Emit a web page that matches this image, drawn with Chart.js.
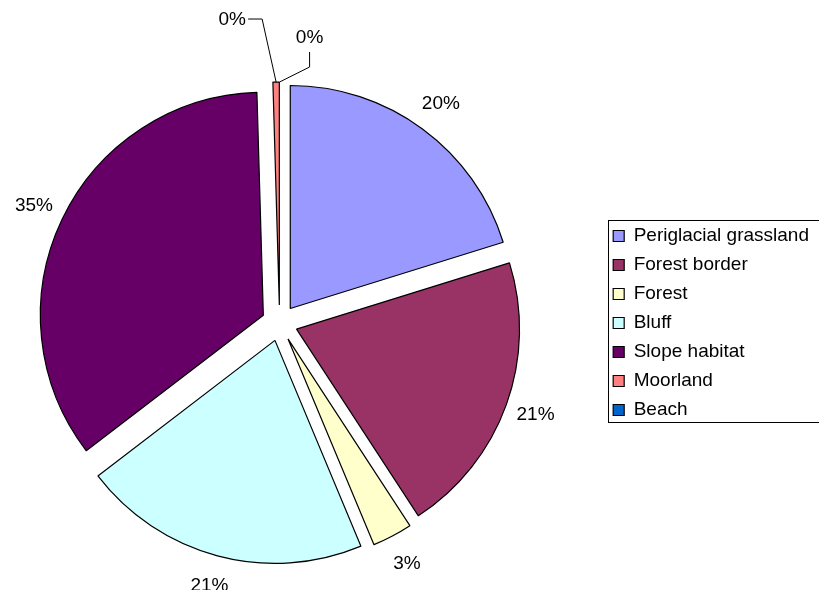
<!DOCTYPE html>
<html>
<head>
<meta charset="utf-8">
<script src="https://cdn.jsdelivr.net/npm/chart.js@4.4.0/dist/chart.umd.min.js"></script>
<style>
  html, body { margin: 0; padding: 0; background: #fff; overflow: hidden; }
  /* canvas starts a bit left of the window so the pie sits where it should */
  #wrap { width: 819px; height: 590px; overflow: hidden; position: relative; }
  canvas { display: block; position: absolute; left: -44px; top: 0; }
</style>
</head>
<body>
<div id="wrap"><canvas id="pie" width="863" height="590"></canvas></div>
<script>
// habitat types, clockwise from 12 o'clock
const habitats = ["Periglacial grassland", "Forest border", "Forest", "Bluff", "Slope habitat", "Moorland", "Beach"];
const shares = [20.2, 20.6, 2.9, 20.9, 34.94, 0.46, 0];
const colours = ["#9999FF", "#993366", "#FFFFCC", "#CCFFFF", "#660066", "#FF8080", "#0066CC"];

const EXPLODE = 18;
const FONT = '"Liberation Sans", Arial, sans-serif';

// the tiny slices get their label pushed out with a leader line (offsets from slice tip)
const leaders = {
  5: { text: [-44, -62], line: [[-28, -63], [-14, -63], [0, 0]] },
  6: { text: [30, -44], line: [[30, -30], [30, -15], [0, 0]] }
};

function midDir(arc) {
  const a = (arc.startAngle + arc.endAngle) / 2;
  return [Math.cos(a), Math.sin(a)];
}

// draw every slice pulled out along its bisector
const explodePlugin = {
  id: 'explode',
  beforeDatasetDraw(chart, args) {
    const ctx = chart.ctx;
    args.meta.data.forEach(arc => {
      const [dx, dy] = midDir(arc);
      ctx.save();
      ctx.translate(dx * EXPLODE, dy * EXPLODE);
      arc.draw(ctx);
      ctx.restore();
    });
    return false;
  }
};

// percent labels + box round the legend
const labelPlugin = {
  id: 'pctLabels',
  afterDraw(chart) {
    const ctx = chart.ctx;
    const meta = chart.getDatasetMeta(0);
    const total = shares.reduce((s, v) => s + v, 0);
    ctx.save();
    ctx.font = '19px ' + FONT;
    ctx.fillStyle = '#000';
    ctx.strokeStyle = '#000';
    ctx.lineWidth = 1;
    ctx.textAlign = 'center';
    ctx.textBaseline = 'middle';
    meta.data.forEach((arc, i) => {
      const [dx, dy] = midDir(arc);
      const txt = Math.round(shares[i] / total * 100) + '%';
      const r = arc.outerRadius + EXPLODE;
      const tipX = arc.x + dx * r, tipY = arc.y + dy * r;
      const ld = leaders[i];
      if (ld) {
        ctx.beginPath();
        ld.line.forEach(([px, py], k) => {
          if (k) ctx.lineTo(tipX + px, tipY + py);
          else ctx.moveTo(tipX + px, tipY + py);
        });
        ctx.stroke();
        ctx.fillText(txt, tipX + ld.text[0], tipY + ld.text[1]);
      } else {
        ctx.fillText(txt, arc.x + dx * (r + 31), arc.y + dy * (r + 31));
      }
    });

    const hb = chart.legend.legendHitBoxes;
    if (hb && hb.length) {
      const first = hb[0], last = hb[hb.length - 1];
      ctx.strokeRect(Math.round(first.left) - 4.5, Math.round(first.top) - 6.5,
        chart.width, Math.round(last.top + last.height - first.top) + 9);
    }
    ctx.restore();
  }
};

new Chart(document.getElementById('pie'), {
  type: 'pie',
  data: {
    labels: habitats,
    datasets: [{
      data: shares,
      backgroundColor: colours,
      borderColor: '#000',
      borderWidth: 1.2,
      radius: 223
    }]
  },
  options: {
    responsive: false,
    animation: false,
    events: [],
    layout: { padding: { left: 0, right: 0, top: 56, bottom: 0 } },
    plugins: {
      tooltip: { enabled: false },
      legend: {
        position: 'right',
        labels: {
          color: '#000',
          font: { family: FONT, size: 19 },
          boxWidth: 11,
          boxHeight: 11,
          padding: 10
        }
      }
    }
  },
  plugins: [explodePlugin, labelPlugin]
});
</script>
</body>
</html>
